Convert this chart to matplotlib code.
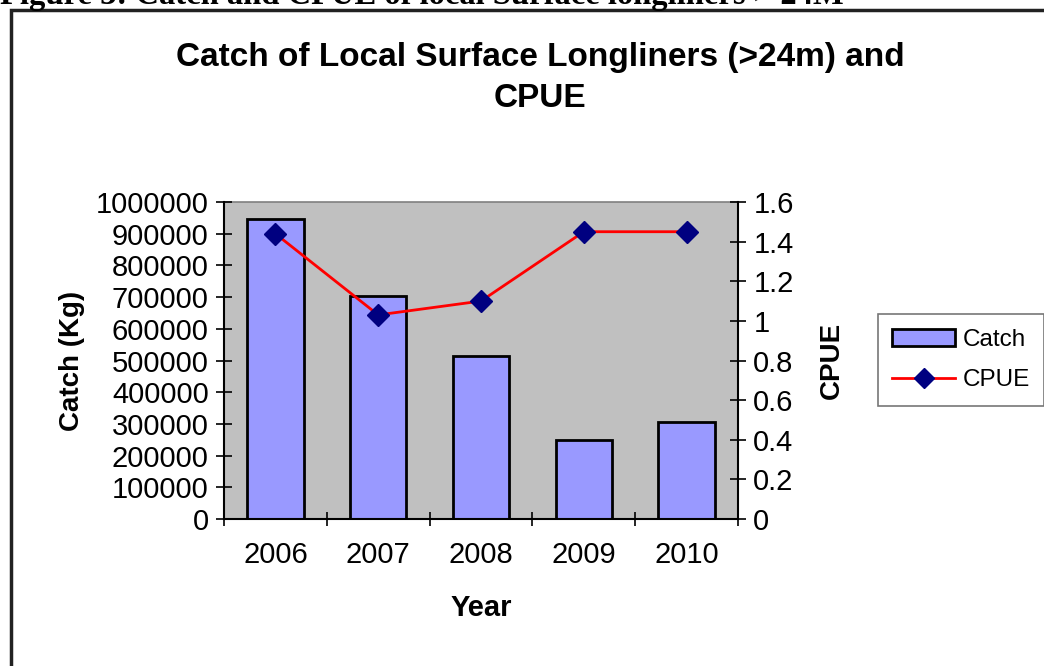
import matplotlib
matplotlib.use("Agg")
import matplotlib.pyplot as plt
from matplotlib.patches import Rectangle, Patch
from matplotlib.lines import Line2D

years = ["2006", "2007", "2008", "2009", "2010"]
catch = [945000, 705000, 515000, 248000, 305000]
cpue = [1.44, 1.03, 1.10, 1.45, 1.45]
left_ticks = [0, 100000, 200000, 300000, 400000, 500000, 600000, 700000, 800000, 900000, 1000000]
right_ticks = [0, 0.2, 0.4, 0.6, 0.8, 1, 1.2, 1.4, 1.6]
right_labels = ["0", "0.2", "0.4", "0.6", "0.8", "1", "1.2", "1.4", "1.6"]

W, H = 1044, 666
fig = plt.figure(figsize=(W / 100, H / 100), dpi=100)
plt.rcParams['font.family'] = ['Liberation Sans', 'DejaVu Sans']

# outer frame
fig.patches.append(Rectangle((11 / W, -0.05), 1.1, 1 - 10 / H + 0.05, transform=fig.transFigure,
                             fill=False, edgecolor='#222222', linewidth=2.5, clip_on=False))
# clipped header
fig.text(0.0, 1 - 4 / H, "Figure 3: Catch and CPUE of local Surface longliners > 24M",
         fontfamily='Liberation Serif', fontweight='bold', fontsize=23.5, va='baseline', ha='left')

ax = fig.add_axes([224 / W, 1 - 519 / H, (738 - 224) / W, (519 - 202) / H])
ax.set_facecolor('#C0C0C0')
x = list(range(len(years)))
ax.bar(x, catch, width=0.55, color='#9999FF', edgecolor='black', linewidth=2, zorder=2)
ax.set_xlim(-0.5, len(years) - 0.5)
ax.set_ylim(0, 1000000)
ax.set_yticks(left_ticks)
ax.set_yticklabels([str(v) for v in left_ticks])
ax.set_xticks([i + 0.5 for i in range(-1, len(years))])
ax.set_xticklabels([])
ax.set_xticks(x, minor=True)
ax.set_xticklabels(years, minor=True)
ax.tick_params(axis='x', which='minor', length=0, pad=16, labelsize=21)
ax.tick_params(axis='x', which='major', direction='inout', length=10, width=1.2)
ax.tick_params(axis='y', direction='inout', length=12, width=1.2, labelsize=21, pad=5)
for s in ['top', 'right']:
    ax.spines[s].set_visible(False)
ax.spines['left'].set_linewidth(1.5)
ax.spines['bottom'].set_linewidth(1.5)
ax.plot([-0.5, 4.5], [1000000, 1000000], color='#808080', lw=1.2, clip_on=False, zorder=1)

ax2 = ax.twinx()
ax2.plot(x, cpue, color='#FF0000', lw=2, marker='D', markersize=11,
         markerfacecolor='#000080', markeredgecolor='#000080', zorder=3)
ax2.set_ylim(0, 1.6)
ax2.set_yticks(right_ticks)
ax2.set_yticklabels(right_labels)
ax2.tick_params(axis='y', direction='inout', length=12, width=1.2, labelsize=21, pad=5)
for s in ['top', 'left', 'bottom']:
    ax2.spines[s].set_visible(False)
ax2.spines['right'].set_linewidth(1.5)

ax.set_ylabel("Catch (Kg)", fontsize=20, fontweight='bold', labelpad=8)
ax2.set_ylabel("CPUE", fontsize=20, fontweight='bold', labelpad=18)
ax.set_xlabel("Year", fontsize=21, fontweight='bold', labelpad=18)

fig.text(540 / W, 1 - 78 / H, "Catch of Local Surface Longliners (>24m) and\nCPUE",
         ha='center', va='center', fontsize=24, fontweight='bold', linespacing=1.4)

handles = [Patch(facecolor='#9999FF', edgecolor='black', linewidth=2),
           Line2D([], [], color='#FF0000', lw=2, marker='D', markersize=10,
                  markerfacecolor='#000080', markeredgecolor='#000080')]
leg = fig.legend(handles, ["Catch", "CPUE"], loc='center', bbox_to_anchor=(961 / W, 1 - 360 / H),
                 fontsize=17.5, frameon=True, fancybox=False, edgecolor='#555555',
                 handlelength=2.6, handletextpad=0.3, borderpad=0.6, labelspacing=0.75,
                 borderaxespad=0)
leg.get_frame().set_linewidth(1.2)

fig.savefig("out.png", dpi=100)
